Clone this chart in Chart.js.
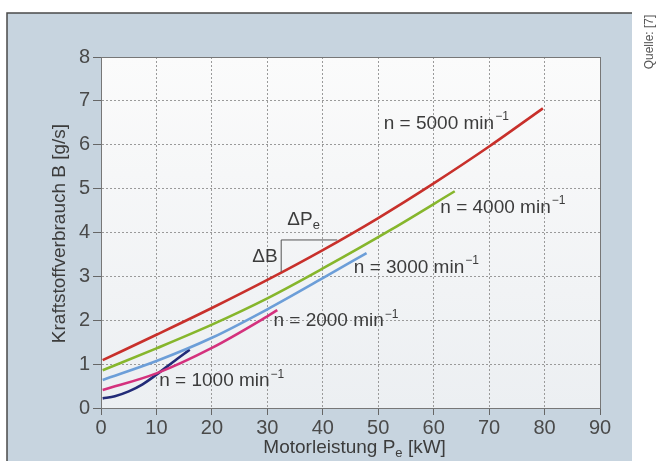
<!DOCTYPE html>
<html>
<head>
<meta charset="utf-8">
<script src="https://cdn.jsdelivr.net/npm/chart.js@4"></script>
<style>
  html, body { margin: 0; padding: 0; background: #ffffff; }
  #wrap { width: 663px; height: 461px; position: relative; }
</style>
</head>
<body>
<div id="wrap"><canvas id="myChart" width="663" height="461"></canvas></div>
<script>
// axis ticks
var xTicks = [0, 10, 20, 30, 40, 50, 60, 70, 80, 90];
var yTicks = [0, 1, 2, 3, 4, 5, 6, 7, 8];

// engine speeds (min^-1)
var speeds = [5000, 4000, 3000, 2000, 1000];

// power Pe [kW] and fuel consumption B [g/s]
var power5000 = [0.3, 10, 20, 30, 40, 50, 60, 70, 79.7];
var fuel5000  = [1.09, 1.67, 2.28, 2.92, 3.6, 4.33, 5.12, 5.96, 6.83];
var power4000 = [0.3, 10, 20, 30, 40, 52.4, 63.8];
var fuel4000  = [0.86, 1.36, 1.9, 2.5, 3.18, 4.07, 4.94];
var power3000 = [0.3, 10, 20, 30, 40, 47.9];
var fuel3000  = [0.64, 1.07, 1.6, 2.25, 2.96, 3.53];
var power2000 = [0.3, 10, 20, 30, 31.8];
var fuel2000  = [0.41, 0.79, 1.37, 2.09, 2.23];
var power1000 = [0.3, 2.5, 5, 7.5, 10, 13, 16];
var fuel1000  = [0.22, 0.27, 0.38, 0.54, 0.76, 1.05, 1.33];

// label anchors in data units (left edge, vertical centre)
var labelX = [51, 61.2, 45.6, 31.1, 10.5];
var labelY = [6.48, 4.57, 3.2, 1.98, 0.61];

var colors = ['#c8302b', '#86b62c', '#6c9ed8', '#d4317d', '#222b78'];
var powers = [power5000, power4000, power3000, power2000, power1000];
var fuels = [fuel5000, fuel4000, fuel3000, fuel2000, fuel1000];

var FONT = '"Liberation Sans", Arial, sans-serif';
var TEXT = '#3c3c3c';

var datasets = speeds.map(function (n, k) {
    return {
        label: 'n = ' + n + ' min⁻¹',
        data: powers[k].map(function (p, i) { return { x: p, y: fuels[k][i] }; }),
        borderColor: colors[k],
        borderWidth: 2.6,
        pointRadius: 0,
        fill: false,
        cubicInterpolationMode: 'monotone'
    };
});

// text with a raised, smaller part
function drawSup(c, base, sup, x, y, size) {
    c.font = size + 'px ' + FONT;
    c.fillText(base, x, y);
    var w = c.measureText(base).width;
    c.font = Math.round(size * 0.65) + 'px ' + FONT;
    c.fillText(sup, x + w + 1, y - size * 0.35);
}
function drawSub(c, base, sub, rest, x, y, size) {
    c.font = size + 'px ' + FONT;
    c.fillText(base, x, y);
    var w = c.measureText(base).width;
    c.font = Math.round(size * 0.68) + 'px ' + FONT;
    c.fillText(sub, x + w, y + size * 0.3);
    var w2 = c.measureText(sub).width;
    c.font = size + 'px ' + FONT;
    c.fillText(rest, x + w + w2, y);
}

var frame = {
    id: 'frame',
    beforeDraw: function (chart) {
        var c = chart.ctx, a = chart.chartArea;
        c.save();
        c.fillStyle = '#ffffff';
        c.fillRect(0, 0, chart.width, chart.height);
        c.fillStyle = '#c7d4df';
        c.fillRect(7, 13, 625, chart.height - 13);
        c.strokeStyle = '#4a4a4a';
        c.lineWidth = 1.5;
        c.beginPath();
        c.moveTo(7, chart.height);
        c.lineTo(7, 13);
        c.lineTo(632, 13);
        c.stroke();
        var g = c.createLinearGradient(0, a.top, 0, a.bottom);
        g.addColorStop(0, '#fbfbfb');
        g.addColorStop(1, '#eceff2');
        c.fillStyle = g;
        c.fillRect(a.left, a.top, a.right - a.left, a.bottom - a.top);
        c.restore();
    },
    afterDraw: function (chart) {
        var c = chart.ctx, a = chart.chartArea;
        var xs = chart.scales.x, ys = chart.scales.y;
        c.save();
        c.strokeStyle = '#777';
        c.lineWidth = 1;
        c.strokeRect(a.left + 0.5, a.top + 0.5, a.right - a.left, a.bottom - a.top);

        // curve labels
        c.fillStyle = TEXT;
        c.textBaseline = 'middle';
        c.textAlign = 'left';
        speeds.forEach(function (n, k) {
            drawSup(c, 'n = ' + n + ' min', '−1',
                xs.getPixelForValue(labelX[k]), ys.getPixelForValue(labelY[k]), 19);
        });

        // slope bracket
        c.strokeStyle = '#555';
        c.lineWidth = 1;
        c.beginPath();
        c.moveTo(xs.getPixelForValue(32.5), ys.getPixelForValue(3.1));
        c.lineTo(xs.getPixelForValue(32.5), ys.getPixelForValue(3.83));
        c.lineTo(xs.getPixelForValue(42.6), ys.getPixelForValue(3.83));
        c.stroke();
        drawSub(c, 'ΔP', 'e', '', xs.getPixelForValue(33.6), ys.getPixelForValue(4.28), 19);
        c.font = '19px ' + FONT;
        c.fillText('ΔB', xs.getPixelForValue(27.3), ys.getPixelForValue(3.45));

        // axis titles
        c.textAlign = 'left';
        var t1 = 'Motorleistung P', w1;
        c.font = '19px ' + FONT;
        w1 = c.measureText(t1).width + c.measureText(' [kW]').width + 9;
        drawSub(c, t1, 'e', ' [kW]', (a.left + a.right) / 2 + 5 - w1 / 2, 448, 19);

        c.save();
        c.translate(60, (a.top + a.bottom) / 2 + 1);
        c.rotate(-Math.PI / 2);
        c.textAlign = 'center';
        c.font = '19px ' + FONT;
        c.fillText('Kraftstoffverbrauch B [g/s]', 0, 0);
        c.restore();

        c.save();
        c.translate(650, 42);
        c.rotate(-Math.PI / 2);
        c.textAlign = 'center';
        c.fillStyle = '#555';
        c.font = '12px ' + FONT;
        c.fillText('Quelle: [7]', 0, 0);
        c.restore();
        c.restore();
    }
};

var ctx = document.getElementById('myChart').getContext('2d');
var myChart = new Chart(ctx, {
    type: 'line',
    data: { datasets: datasets },
    options: {
        responsive: false,
        animation: false,
        layout: { padding: { left: 0, top: 57, right: 63, bottom: 0 } },
        plugins: { legend: { display: false }, tooltip: { enabled: false } },
        scales: {
            x: {
                type: 'linear',
                min: xTicks[0],
                max: xTicks[xTicks.length - 1],
                afterBuildTicks: function (s) { s.ticks = xTicks.map(function (v) { return { value: v }; }); },
                afterFit: function (s) { s.height = 53; },
                grid: { color: '#9a9a9a', lineWidth: 1, tickLength: 7, tickColor: '#666' },
                border: { color: '#666', width: 1, dash: [2, 2] },
                ticks: { color: '#4a4a4a', padding: 1, font: { family: FONT, size: 20 } }
            },
            y: {
                min: yTicks[0],
                max: yTicks[yTicks.length - 1],
                afterBuildTicks: function (s) { s.ticks = yTicks.map(function (v) { return { value: v }; }); },
                afterFit: function (s) { s.width = 101; },
                grid: { color: '#9a9a9a', lineWidth: 1, tickLength: 8, tickColor: '#666' },
                border: { color: '#666', width: 1, dash: [2, 2] },
                ticks: { color: '#4a4a4a', padding: 3, font: { family: FONT, size: 20 } }
            }
        }
    },
    plugins: [frame]
});
</script>
</body>
</html>
